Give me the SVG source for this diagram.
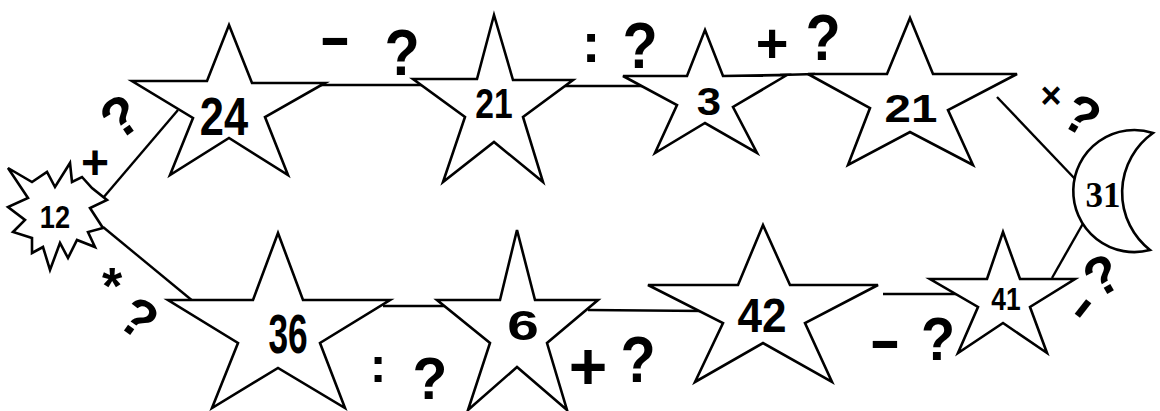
<svg xmlns="http://www.w3.org/2000/svg" width="1160" height="411" viewBox="0 0 1160 411">
<style>
.shape{fill:#fff;stroke:#000;stroke-width:2.6;stroke-linejoin:miter}
.conn{stroke:#000;stroke-width:2.4;fill:none}
.num{font-family:"Liberation Sans",Arial,sans-serif;font-weight:bold;text-anchor:middle;fill:#000}
.serif{font-family:"Liberation Serif","Times New Roman",serif;font-weight:bold;text-anchor:middle;fill:#000}
.op{font-family:"Liberation Sans",Arial,sans-serif;font-weight:bold;text-anchor:middle;fill:#000}
</style>
<rect width="1160" height="411" fill="#fff"/>
<g id="connectors">
<line class="conn" x1="103" y1="198" x2="178" y2="110"/>
<line class="conn" x1="103" y1="227" x2="194" y2="302"/>
<line class="conn" x1="320" y1="85" x2="430" y2="85"/>
<line class="conn" x1="565" y1="86" x2="660" y2="86"/>
<line class="conn" x1="780" y1="75" x2="815" y2="74"/>
<line class="conn" x1="997" y1="97" x2="1076" y2="180"/>
<line class="conn" x1="1085" y1="220" x2="1052" y2="278"/>
<line class="conn" x1="883" y1="294" x2="960" y2="294"/>
<line class="conn" x1="588" y1="310" x2="705" y2="311"/>
<line class="conn" x1="383" y1="306" x2="450" y2="306"/>
</g>
<g id="node-12">
<polygon class="shape" points="8,168 32,182 47,172 55,187 70,163 72,182 82,177 92,188 107,200 90,208 103,228 88,232 95,247 77,240 68,258 60,243 50,270 43,247 32,253 32,238 13,232 25,220 8,207 28,198"/>
<text class="num" font-size="32" transform="translate(55,228) scale(0.85,1)">12</text>
</g>
<g id="node-24">
<polygon class="shape" points="229,25 252,83 325,83 265,117 288,175 229,138 170,175 193,118 132,81 207,81"/>
<text class="num" font-size="53" transform="translate(224,135) scale(0.82,1)">24</text>
</g>
<g id="node-21a">
<polygon class="shape" points="494,15 513,80 573,80 523,117 543,182 494,142 443,182 465,117 413,79 477,79"/>
<text class="num" font-size="42" transform="translate(494,118) scale(0.8,1)">21</text>
</g>
<g id="node-3">
<polygon class="shape" points="705,30 723,76 787,75 733,107 757,153 705,123 655,153 677,105 623,76 687,76"/>
<text class="num" font-size="38" transform="translate(709,115) scale(1.15,1)">3</text>
</g>
<g id="node-21b">
<polygon class="shape" points="910,18 933,74 1017,74 948,110 973,165 910,132 848,165 870,108 808,74 887,74"/>
<text class="num" font-size="38" transform="translate(911,122) scale(1.25,1)">21</text>
</g>
<g id="node-31">
<path class="shape" d="M1153,133 A61,61 0 1 0 1150,250 A73,73 0 0 1 1153,133 Z"/>
<text class="serif" font-size="35" x="1103" y="207">31</text>
</g>
<g id="node-41">
<polygon class="shape" points="1003,232 1020,279 1075,279 1030,307 1047,353 1003,323 958,353 978,307 930,279 987,279"/>
<text class="num" font-size="31" transform="translate(1006,310) scale(0.85,1)">41</text>
</g>
<g id="node-42">
<polygon class="shape" points="763,225 790,285 878,285 805,323 832,382 763,343 695,382 723,323 648,285 738,285"/>
<text class="num" font-size="49" transform="translate(762,332) scale(0.9,1)">42</text>
</g>
<g id="node-6">
<polygon class="shape" points="517,230 535,300 598,300 547,343 567,410 517,367 468,410 490,343 437,300 500,300"/>
<text class="num" font-size="42" transform="translate(523,340) scale(1.35,1)">6</text>
</g>
<g id="node-36">
<polygon class="shape" points="278,233 303,300 390,300 320,343 345,408 278,368 212,408 238,343 168,300 253,300"/>
<text class="num" font-size="56" transform="translate(288,353) scale(0.63,1)">36</text>
</g>
<g id="labels">
<text class="op" font-size="48" x="95" y="179">+</text>
<text class="op" font-size="56" transform="translate(120,116) rotate(-35)" y="20">?</text>
<text class="op" font-size="60" transform="translate(335,57) scale(1.6,1)">-</text>
<text class="op" font-size="64" transform="translate(402,75) scale(0.9,1)">?</text>
<text class="op" font-size="56" x="591" y="62">:</text>
<text class="op" font-size="64" transform="translate(640,68) scale(0.9,1)">?</text>
<text class="op" font-size="56" x="772" y="62">+</text>
<text class="op" font-size="64" transform="translate(823,60) scale(0.9,1)">?</text>
<text class="op" font-size="36" x="1051" y="108">×</text>
<text class="op" font-size="54" transform="translate(1082,115) rotate(30)" y="19">?</text>
<text class="op" font-size="52" x="112" y="304">*</text>
<text class="op" font-size="54" transform="translate(139,318) rotate(35)" y="19">?</text>
<text class="op" font-size="50" x="378" y="382">:</text>
<text class="op" font-size="60" transform="translate(430,399) scale(0.95,1)">?</text>
<text class="op" font-size="66" x="588" y="389">+</text>
<text class="op" font-size="64" transform="translate(638,382) scale(0.9,1)">?</text>
<text class="op" font-size="60" transform="translate(885,360) scale(1.6,1)">-</text>
<text class="op" font-size="62" transform="translate(938,360) scale(0.9,1)">?</text>
<text class="op" font-size="54" transform="translate(1102,275) rotate(-30)" y="19">?</text>
<text class="op" font-size="56" transform="translate(1081,307) rotate(-52) scale(1.3,1)" y="17">-</text>
</g>
</svg>
